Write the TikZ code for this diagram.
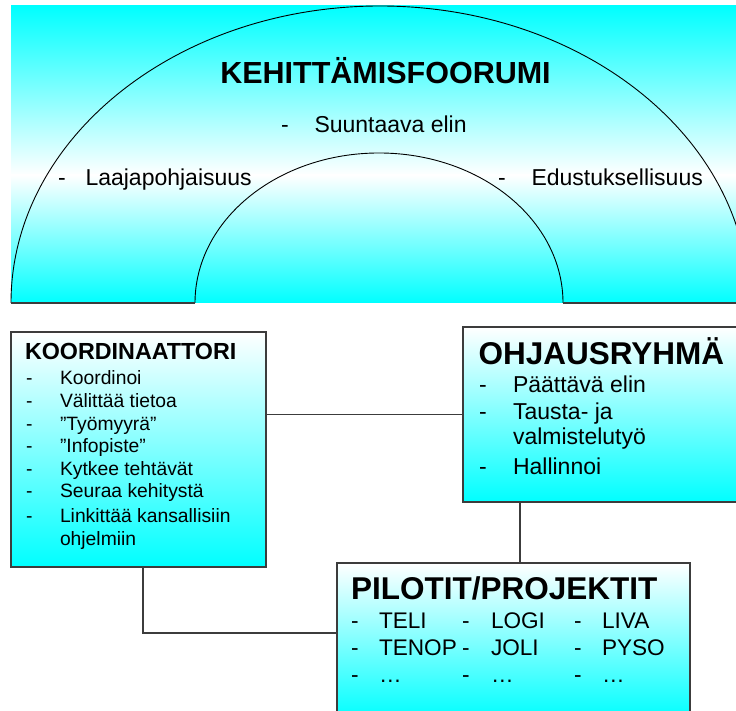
\documentclass[tikz,border=0pt]{standalone}
\usepackage{fontspec}
\setmainfont{Liberation Sans}
\definecolor{aqua}{RGB}{0,255,255}
\definecolor{edge}{RGB}{60,60,60}
\tikzset{
  txt/.style={anchor=base west, inner sep=0pt, outer sep=0pt},
  archtxt/.style={txt, font=\fontsize{23}{27}\selectfont},
  kotitle/.style={txt, font=\bfseries\fontsize{23.3}{28}\selectfont},
  koitem/.style={txt, font=\fontsize{19.3}{23}\selectfont},
  bigtitle/.style={txt, font=\bfseries\fontsize{31.5}{37}\selectfont},
  bigitem/.style={txt, font=\fontsize{23}{27}\selectfont},
  pilitem/.style={txt, font=\fontsize{22.6}{27}\selectfont},
  panel/.style={draw=edge, line width=1.5pt, top color=white, bottom color=aqua,
    inner sep=0pt, outer sep=0pt},
  link/.style={draw=edge, line width=1.2pt},
  rim/.style={draw=black, line width=0.9pt},
}
\begin{document}
\begin{tikzpicture}[x=1pt, y=1pt]
\useasboundingbox (0,0) rectangle (736,711);

% forum background band: cyan at the edges, white towards the middle
\shade[top color=aqua, bottom color=white] (11,705) rectangle (740,535.5);
\shade[top color=white, bottom color=aqua] (11,536) rectangle (740,408);

% half-ring of the forum
\draw[rim] (11,408) arc[start angle=180, end angle=0, x radius=369, y radius=297];
\draw[rim] (195,408) arc[start angle=180, end angle=0, x radius=184, y radius=150];
\draw[edge, line width=1.5pt] (11,408) -- (195,408);
\draw[edge, line width=1.5pt] (563,408) -- (742,408);

\node[anchor=base, inner sep=0pt, font=\bfseries\fontsize{30.5}{36}\selectfont]
  (forum) at (385.5,627) {KEHITTÄMISFOORUMI};
\node[archtxt] (fd1) at (281,578) {-};
\node[archtxt] (fi1) at (314.5,578) {Suuntaava elin};
\node[archtxt] (fd2) at (58,525) {-};
\node[archtxt] (fi2) at (85.5,525) {Laajapohjaisuus};
\node[archtxt] (fd3) at (498,525) {-};
\node[archtxt] (fi3) at (531.5,525) {Edustuksellisuus};

% panels
\node[panel, minimum width=255pt, minimum height=235pt] (koord) at (138.5,261.5) {};
\node[panel, minimum width=279pt, minimum height=175pt] (ohj) at (602.5,296.5) {};
\node[panel, minimum width=353pt, minimum height=156pt] (pil) at (513.5,70) {};

% connectors
\coordinate (elbow) at (143,78);
\draw[link] (koord.east |- ohj.west) -- (ohj.west);
\draw[link] ([xshift=6.5pt]pil.north) -- ([xshift=6.5pt]pil.north |- ohj.south);
\draw[link] (koord.south -| elbow) -- (elbow) -- (elbow -| pil.west);

% coordinator
\node[kotitle] (kt) at (25,351) {KOORDINAATTORI};
\foreach \n/\y/\t in {1/326/Koordinoi, 2/303/Välittää tietoa, 3/280.5/”Työmyyrä”,
    4/258/”Infopiste”, 5/235/Kytkee tehtävät, 6/213/Seuraa kehitystä,
    7/188/Linkittää kansallisiin} {
  \node[koitem] (kd\n) at (26,\y) {-};
  \node[koitem] (ki\n) at (60,\y) {\t};
}
\node[koitem] (ki8) at (60,165) {ohjelmiin};

% steering group
\node[bigtitle] (ot) at (478.5,346) {OHJAUSRYHMÄ};
\node[bigitem] (od1) at (479,318) {-};
\node[bigitem] (oi1) at (513,318) {Päättävä elin};
\node[bigitem] (od2) at (479,291) {-};
\node[bigitem] (oi2) at (513,291) {Tausta- ja};
\node[bigitem] (oi3) at (513,266) {valmistelutyö};
\node[bigitem] (od4) at (479,236) {-};
\node[bigitem] (oi4) at (513,236) {Hallinnoi};

% pilots and projects
\node[bigtitle] (pt) at (351,111) {PILOTIT/PROJEKTIT};
\foreach \r/\y/\a/\b/\c in {1/82/TELI/LOGI/LIVA, 2/55/TENOP/JOLI/PYSO, 3/28/…/…/…} {
  \node[pilitem] (pa\r) at (351,\y) {-};
  \node[pilitem] (pA\r) at (379,\y) {\a};
  \node[pilitem] (pb\r) at (462,\y) {-};
  \node[pilitem] (pB\r) at (491,\y) {\b};
  \node[pilitem] (pc\r) at (574,\y) {-};
  \node[pilitem] (pC\r) at (602,\y) {\c};
}
\end{tikzpicture}
\end{document}
